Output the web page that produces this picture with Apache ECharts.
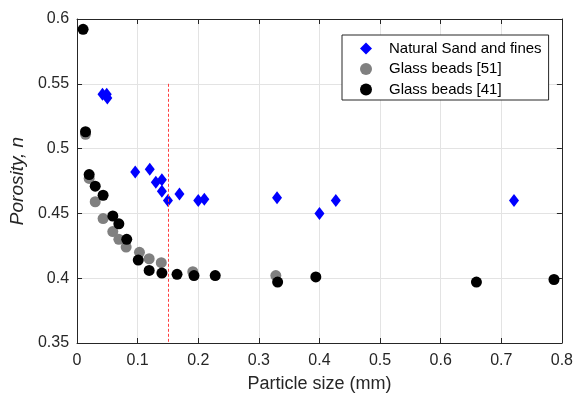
<!DOCTYPE html>
<html>
<head>
<meta charset="utf-8">
<script src="https://cdn.jsdelivr.net/npm/echarts@6/dist/echarts.min.js"></script>
<style>
html,body{margin:0;padding:0;background:#fff;}
#chart{width:576px;height:398px;}
</style>
</head>
<body>
<div id="chart"></div>
<script>
// ---- data ----
const seriesNames = ['Natural Sand and fines', 'Glass beads [51]', 'Glass beads [41]'];

const sandX = [0.042, 0.049, 0.050, 0.096, 0.120, 0.130, 0.140, 0.140, 0.150, 0.169, 0.200, 0.210, 0.330, 0.400, 0.427, 0.721];
const sandY = [0.542, 0.542, 0.539, 0.482, 0.484, 0.474, 0.476, 0.467, 0.460, 0.465, 0.460, 0.461, 0.462, 0.450, 0.460, 0.460];

const beads51X = [0.014, 0.020, 0.030, 0.043, 0.059, 0.069, 0.081, 0.103, 0.119, 0.139, 0.191, 0.328];
const beads51Y = [0.511, 0.477, 0.459, 0.446, 0.436, 0.430, 0.424, 0.420, 0.415, 0.412, 0.405, 0.402];

const beads41X = [0.010, 0.014, 0.020, 0.030, 0.043, 0.059, 0.069, 0.082, 0.101, 0.119, 0.140, 0.165, 0.193, 0.228, 0.331, 0.394, 0.659, 0.787];
const beads41Y = [0.592, 0.513, 0.480, 0.471, 0.464, 0.448, 0.442, 0.430, 0.414, 0.406, 0.404, 0.403, 0.402, 0.402, 0.397, 0.401, 0.397, 0.399];

// vertical reference line (x, yStart, yEnd)
const refLineX = [0.15, 0.15];
const refLineY = [0.55, 0.35];

const xRange = [0, 0.8, 0.1];
const yRange = [0.35, 0.6, 0.05];

// ---- chart ----
const zip = (xs, ys) => xs.map((x, i) => [x, ys[i]]);
const FONT = '"Liberation Sans", Arial, Helvetica, sans-serif';
const AX = '#262626';
const GRID = '#e3e3e3';

const chart = echarts.init(document.getElementById('chart'), null, {renderer: 'canvas'});

const baseX = {
  type: 'value', min: xRange[0], max: xRange[1], interval: xRange[2],
  axisLine: {show: true, onZero: false, lineStyle: {color: AX, width: 1}},
  axisTick: {show: true, inside: true, length: 5, lineStyle: {color: AX}},
  splitLine: {show: false}
};
const baseY = {
  type: 'value', min: yRange[0], max: yRange[1], interval: yRange[2],
  axisLine: {show: true, onZero: false, lineStyle: {color: AX, width: 1}},
  axisTick: {show: true, inside: true, length: 5, lineStyle: {color: AX}},
  splitLine: {show: false}
};

const option = {
  backgroundColor: '#fff',
  animation: false,
  textStyle: {fontFamily: FONT},
  grid: {left: 77, right: 12, top: 19, bottom: 52, containLabel: false},
  legend: {
    left: 342, top: 35,
    orient: 'vertical',
    backgroundColor: '#fff',
    borderColor: AX, borderWidth: 1,
    padding: [5, 7, 2, 18],
    itemWidth: 12, itemHeight: 12, itemGap: 3.5,
    textStyle: {fontFamily: FONT, fontSize: 15, color: '#000', lineHeight: 17, padding: [0, 0, 0, 12]},
    data: [
      {name: seriesNames[0], icon: 'diamond'},
      {name: seriesNames[1], icon: 'circle'},
      {name: seriesNames[2], icon: 'circle'}
    ]
  },
  xAxis: [
    Object.assign({}, baseX, {
      position: 'bottom',
      name: 'Particle size (mm)', nameLocation: 'middle', nameGap: 32,
      nameTextStyle: {fontFamily: FONT, fontSize: 18, color: AX},
      axisLabel: {fontFamily: FONT, fontSize: 16, color: AX, margin: 10},
      splitLine: {show: true, lineStyle: {color: GRID, width: 1}}
    }),
    Object.assign({}, baseX, {position: 'top', axisLabel: {show: false}})
  ],
  yAxis: [
    Object.assign({}, baseY, {
      position: 'left',
      name: 'Porosity, n', nameLocation: 'middle', nameGap: 47,
      nameTextStyle: {fontFamily: FONT, fontSize: 19, fontStyle: 'italic', color: AX},
      axisLabel: {fontFamily: FONT, fontSize: 16, color: AX, margin: 8},
      splitLine: {show: true, lineStyle: {color: GRID, width: 1}}
    }),
    Object.assign({}, baseY, {position: 'right', axisLabel: {show: false}})
  ],
  series: [
    {
      name: seriesNames[0], type: 'scatter',
      symbol: 'diamond', symbolSize: [10, 13],
      itemStyle: {color: '#0000ff', opacity: 1},
      data: zip(sandX, sandY),
      z: 3,
      markLine: {
        silent: true, symbol: 'none', animation: false,
        label: {show: false},
        lineStyle: {color: '#ff4040', width: 1, type: [3, 2]},
        data: [[{coord: [refLineX[0], refLineY[0]]}, {coord: [refLineX[1], refLineY[1]]}]]
      }
    },
    {
      name: seriesNames[1], type: 'scatter',
      symbol: 'circle', symbolSize: 11,
      itemStyle: {color: '#808080', opacity: 1},
      data: zip(beads51X, beads51Y),
      z: 3
    },
    {
      name: seriesNames[2], type: 'scatter',
      symbol: 'circle', symbolSize: 11,
      itemStyle: {color: '#000000', opacity: 1},
      data: zip(beads41X, beads41Y),
      z: 4
    }
  ]
};
chart.setOption(option);
</script>
</body>
</html>
